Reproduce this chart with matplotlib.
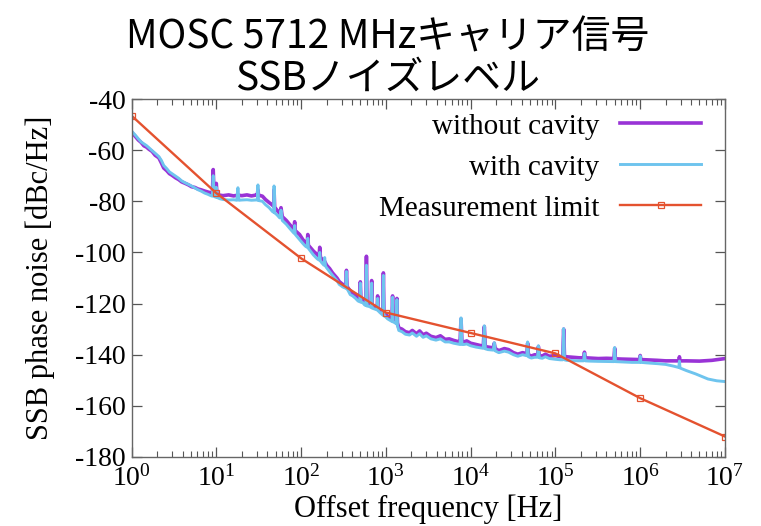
import numpy as np
import matplotlib
matplotlib.use('Agg')
import matplotlib.pyplot as plt
from matplotlib.ticker import LogLocator, LogFormatterSciNotation, MultipleLocator, NullFormatter

# --- data ---
f_without = [1.0, 1.1, 1.2, 1.3, 1.4, 1.5, 1.6, 1.75, 1.9, 2.1, 2.25, 2.4, 2.6, 2.8, 3.0, 3.3, 3.6, 3.9,
             4.3, 4.7, 5.1, 5.6, 6.1, 6.6, 7.3, 8.0, 8.6, 9.0, 9.2, 9.4, 9.8, 10.0, 10.2, 11, 12, 14, 16,
             18, 20, 23, 26, 29, 30.5, 31, 31.5, 35, 38, 42, 46, 47.5, 48, 48.8, 52, 56, 58, 60, 67, 73,
             80, 82.5, 84, 85.5, 96, 105, 112, 118, 120, 122, 140, 155, 163, 166, 169, 175, 190, 200,
             217, 235, 250, 265, 282, 310, 337, 343, 349, 360, 380, 405, 440, 470, 492, 500, 508, 530,
             560, 580, 590, 600, 620, 670, 680, 690, 720, 790, 800, 810, 850, 920, 935, 950, 980, 1050,
             1180, 1200, 1220, 1280, 1330, 1350, 1370, 1420, 1550, 1700, 1900, 2050, 2300, 2500, 2750,
             3000, 3400, 3900, 4400, 5000, 5600, 6300, 7000, 7500, 7700, 7900, 8300, 9000, 10000, 11500,
             13000, 14100, 14500, 14900, 16000, 18500, 19000, 19500, 21500, 25000, 28000, 32000, 36000,
             41000, 46000, 47000, 48000, 52000, 57000, 61500, 63000, 64500, 70000, 76000, 85000, 100000,
             115000, 122000, 125000, 128000, 135000, 160000, 190000, 215000, 220000, 225000, 250000,
             320000, 400000, 490000, 500000, 510000, 600000, 800000, 980000, 1000000, 1020000, 1200000,
             1600000, 2000000, 2850000, 2900000, 2950000, 3500000, 5000000, 7000000, 10000000]
ssb_without = [-53, -54.5, -56, -57, -58.3, -58.8, -59.6, -60.5, -62, -63, -65, -67, -68, -69.2, -69.8,
               -70.8, -71.5, -72.4, -73, -73.6, -74.3, -74.6, -75.2, -75.5, -76, -76.4, -76.7, -76.8,
               -67.6, -76.5, -77, -73, -77.3, -77.6, -77.8, -77.5, -77.9, -77.6, -77.8, -77.5, -77.9,
               -77.6, -77.4, -75.5, -77.6, -78, -79.3, -80.5, -81.5, -82, -75.5, -82.3, -83.5, -84.8,
               -82.5, -86, -87.5, -89, -90.5, -91, -88, -91.5, -93, -95, -96, -96.8, -93, -97.2, -99.5,
               -100.8, -101.5, -98, -101.8, -102.5, -103.5, -105, -106.3, -108, -109, -110, -111.4,
               -112.5, -113, -107, -113.3, -114, -115, -116, -116.5, -117.5, -117.8, -111.5, -118,
               -118.3, -119, -119.3, -101.5, -119.5, -119.8, -120.5, -111, -120.8, -121, -121.5, -117,
               -121.8, -122.5, -123.5, -108, -123.8, -124, -125, -126, -117, -126.2, -126.5, -127,
               -118, -127.5, -129.5, -130, -131, -131.4, -130.5, -131.8, -130.7, -132.2, -131.6, -132.8,
               -133.3, -132.6, -134, -133.8, -134.4, -134.8, -135, -126, -135, -135, -134.6, -135.5,
               -136, -136.4, -136.6, -129, -136.8, -137, -137.3, -135.5, -137.6, -138.4, -137.6, -138,
               -139.2, -139.8, -139.2, -139.6, -135.5, -140, -140.5, -140, -140.2, -136.8, -140.3,
               -140.5, -139.8, -140.6, -140.3, -140.8, -140.8, -130, -140.8, -140.8, -141, -141.2,
               -141.2, -139, -141.2, -141.3, -141.5, -141.4, -141.5, -137.5, -141.6, -141.7, -141.8,
               -141.9, -140.3, -141.9, -142, -142.2, -142.4, -142.4, -140.8, -142.4, -142.4, -142.5,
               -142.2, -141.5]

f_with = [1.0, 1.1, 1.2, 1.3, 1.4, 1.5, 1.6, 1.75, 1.9, 2.1, 2.25, 2.4, 2.6, 2.8, 3.0, 3.3, 3.6, 3.9,
          4.3, 4.7, 5.1, 5.6, 6.1, 6.6, 7.3, 8.0, 8.6, 9.0, 9.2, 9.4, 9.8, 10.0, 10.2, 11, 12, 14, 16,
          17.5, 18, 18.5, 20, 23, 26, 29, 30.5, 31, 31.5, 35, 38, 42, 46, 47.5, 48, 48.8, 52, 56, 58,
          60, 67, 73, 80, 82.5, 84, 85.5, 96, 105, 112, 118, 120, 122, 140, 155, 163, 166, 169, 175,
          186, 190, 194, 200, 217, 235, 250, 265, 282, 310, 337, 343, 349, 360, 380, 405, 440, 470,
          492, 500, 508, 530, 560, 580, 590, 600, 620, 670, 680, 690, 720, 790, 800, 810, 850, 920,
          935, 950, 980, 1050, 1180, 1200, 1220, 1280, 1330, 1350, 1370, 1420, 1550, 1700, 1900, 2050,
          2300, 2500, 2750, 3000, 3400, 3900, 4400, 5000, 5600, 6300, 7000, 7500, 7700, 7900, 8300,
          9000, 10000, 11500, 13000, 14100, 14500, 14900, 16000, 18500, 19000, 19500, 21500, 25000,
          28000, 32000, 36000, 41000, 46000, 47000, 48000, 52000, 57000, 61500, 63000, 64500, 70000,
          76000, 85000, 100000, 115000, 122000, 125000, 128000, 135000, 160000, 190000, 215000,
          220000, 225000, 250000, 320000, 490000, 500000, 510000, 600000, 800000, 980000, 1000000,
          1020000, 1200000, 1600000, 2000000, 2500000, 2850000, 2900000, 2950000, 3500000, 4500000,
          5500000, 6300000, 8000000, 10000000]
ssb_with = [-52.5, -54, -55.5, -56.8, -57.5, -58.2, -59, -60.2, -61.2, -62.5, -64, -66, -67.2, -68.5,
            -69.2, -70.2, -71, -72, -72.8, -73.4, -74, -74.8, -75.5, -76, -76.8, -77.3, -77.8, -78,
            -70, -78, -78.4, -74.5, -78.5, -79, -79.3, -79.5, -79.4, -79.6, -74.7, -79.6, -79.5,
            -79.4, -79.6, -79.5, -79.5, -73.6, -79.7, -80, -81.3, -82.5, -84, -84.3, -74, -84.5,
            -85.3, -86.5, -83.5, -87.5, -89, -90.5, -92, -92.5, -89.5, -93, -95, -96.5, -97.5, -98,
            -94.5, -98.4, -101, -102.5, -103, -100, -103.3, -104, -105, -102, -105.3, -106, -107.5,
            -109, -110, -111, -112.5, -113.5, -114, -107.5, -114.3, -115, -116.5, -117, -118, -119,
            -119.3, -112, -119.5, -119.5, -120.5, -120.8, -105, -121, -121, -121.5, -112, -121.8,
            -122, -122.5, -118, -122.8, -123.5, -124.5, -109, -124.8, -125, -126, -127, -117.5,
            -127.2, -127.5, -128, -118.5, -128.5, -130.5, -131, -132, -132.3, -131.5, -132.8, -131.8,
            -133.2, -132.6, -133.8, -134.3, -133.8, -135, -135, -135.5, -135.8, -136, -125.6, -136,
            -136, -135.8, -136.5, -137, -137.3, -137.5, -128.7, -137.7, -138, -138.2, -135.3, -138.5,
            -139.2, -138.6, -139, -140, -140.6, -140, -140.4, -135, -140.8, -141.3, -141, -141,
            -136.5, -141.2, -141.4, -140.8, -141.5, -141.8, -142, -142, -129.8, -142, -142.2, -142.3,
            -142.4, -142.4, -139.5, -142.4, -142.5, -142.6, -142.7, -137.2, -142.7, -142.8, -143,
            -143, -140.5, -143, -143.2, -143.5, -143.8, -144.5, -145, -142.5, -145.2, -146.2, -147.5,
            -148.7, -149.5, -150.2, -150.5]

f_limit = [1e0, 1e1, 1e2, 1e3, 1e4, 1e5, 1e6, 1e7]
ssb_limit = [-46.5, -76.8, -102.3, -123.5, -131.5, -139.5, -157, -172]

labels = ['without cavity', 'with cavity', 'Measurement limit']
title_text = 'MOSC 5712 MHzキャリア信号\nSSBノイズレベル'

plt.rcParams['font.family'] = ['Liberation Serif', 'DejaVu Serif']
plt.rcParams['mathtext.fontset'] = 'custom'
plt.rcParams['mathtext.rm'] = 'Liberation Serif'
plt.rcParams['mathtext.it'] = 'Liberation Serif:italic'
plt.rcParams['axes.unicode_minus'] = False

fig = plt.figure(figsize=(7.61, 5.26), dpi=100)
ax = fig.add_axes([131.5 / 761, 1 - 457 / 526, (725 - 131.5) / 761, (457 - 99) / 526])

ax.plot(f_without, ssb_without, color='#9933d6', linewidth=2.6, label=labels[0])
ax.plot(f_with, ssb_with, color='#6ec4ee', linewidth=2.1, label=labels[1])
ax.plot(f_limit, ssb_limit, color='#e4522f', linewidth=1.7, marker='s', markersize=5,
        markerfacecolor='none', markeredgewidth=0.9, label=labels[2])

ax.set_xscale('log')
ax.set_xlim(1, 1e7)
ax.set_ylim(-180, -40)
ax.xaxis.set_major_locator(LogLocator(base=10, numticks=10))
ax.xaxis.set_minor_locator(LogLocator(base=10, subs=np.arange(2, 10), numticks=10))
ax.xaxis.set_minor_formatter(NullFormatter())
ax.xaxis.set_major_formatter(LogFormatterSciNotation())
ax.yaxis.set_major_locator(MultipleLocator(20))

ax.tick_params(which='both', direction='in', top=True, right=True, labelsize=20, colors='#555555',
               labelcolor='black')
ax.tick_params(which='major', length=7, width=0.9, pad=4.5)
ax.tick_params(which='minor', length=4, width=0.8)
ax.tick_params(axis='x', which='major', pad=6)
for sp in ax.spines.values():
    sp.set_color('#666666')
    sp.set_linewidth(1.0)

ax.set_xlabel('Offset frequency [Hz]', fontsize=22, labelpad=2)
ax.set_ylabel('SSB phase noise [dBc/Hz]', fontsize=22, labelpad=14)

leg = ax.legend(loc='upper right', frameon=False, markerfirst=False, fontsize=21, handlelength=2.8,
                handletextpad=0.7, labelspacing=0.5, borderaxespad=0.0, borderpad=0.3,
                numpoints=1, bbox_to_anchor=(0.975, 0.985))

fig.text(0.509, 0.966, title_text, ha='center', va='top', fontsize=28, linespacing=1.02,
         family=['Noto Sans CJK JP', 'DejaVu Sans'])

fig.savefig('out.png', dpi=100)
